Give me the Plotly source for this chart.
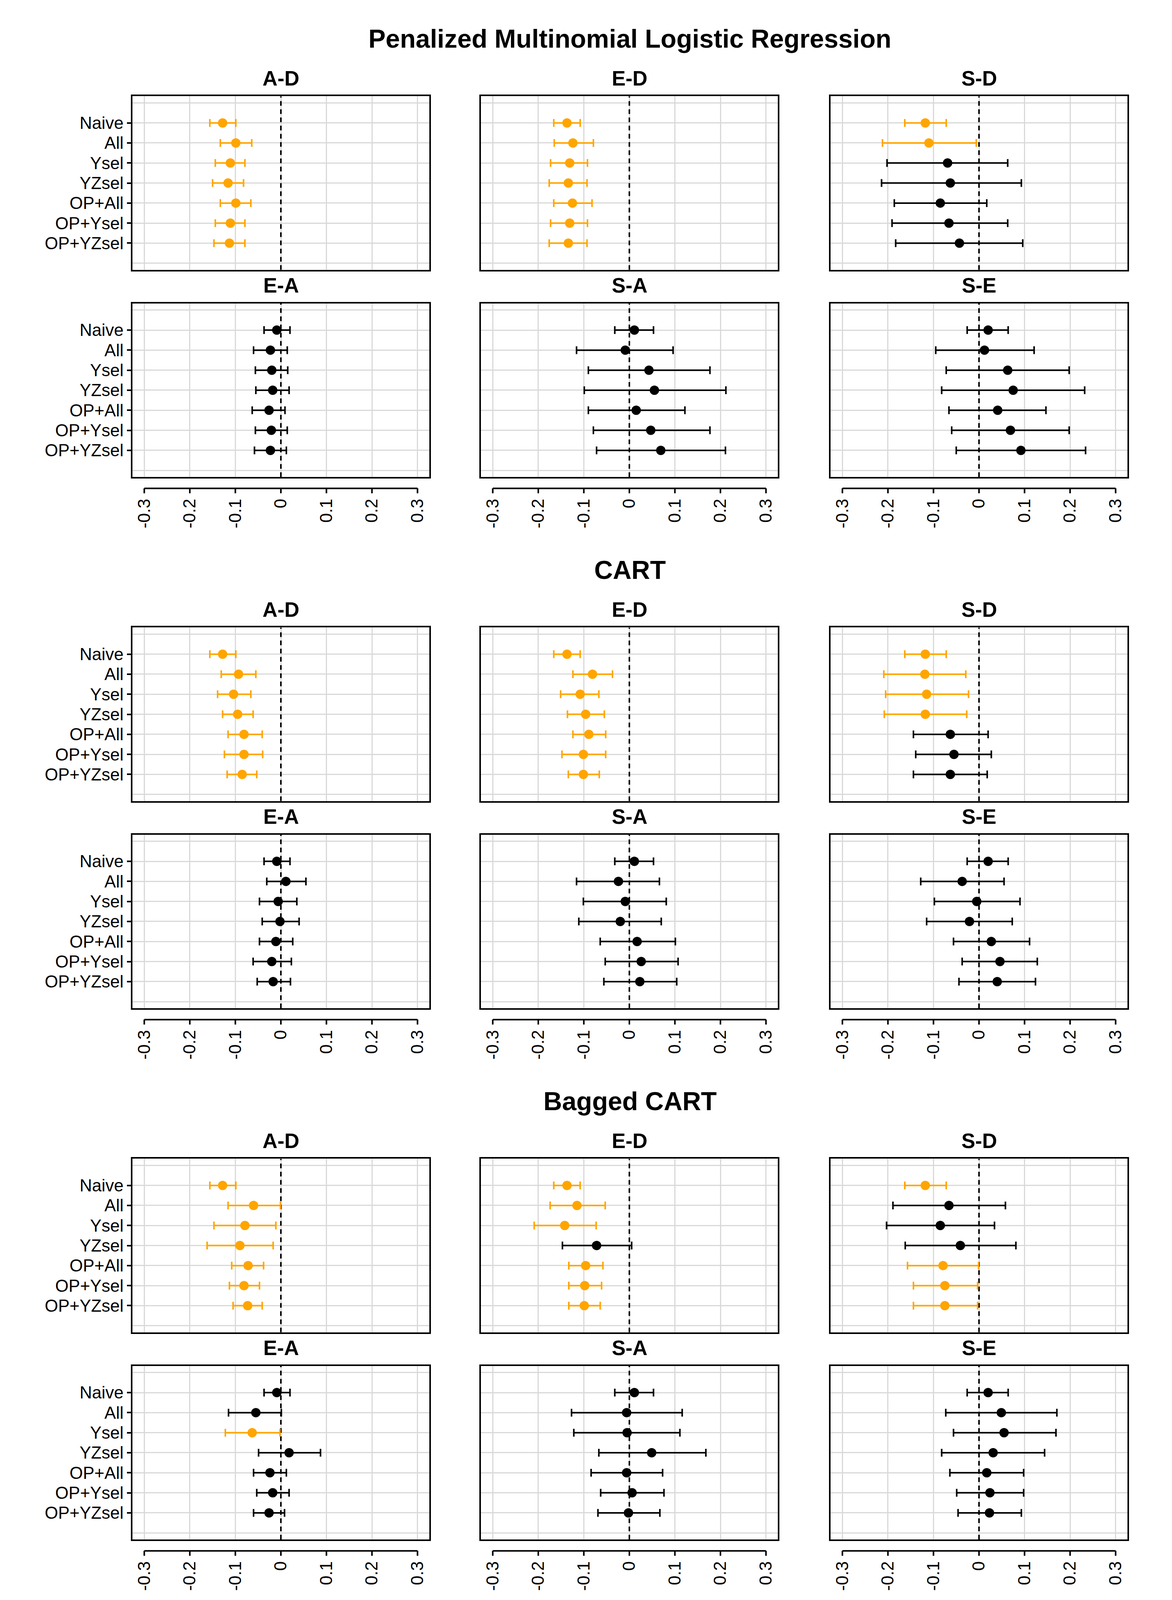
import plotly.graph_objects as go

# rows of every panel, top to bottom
methods = ["Naive", "All", "Ysel", "YZsel", "OP+All", "OP+Ysel", "OP+YZsel"]
contrasts = ["A-D", "E-D", "S-D", "E-A", "S-A", "S-E"]
models = ["Penalized Multinomial Logistic Regression", "CART", "Bagged CART"]
tick_vals = [-0.3, -0.2, -0.1, 0, 0.1, 0.2, 0.3]
tick_text = ["-0.3", "-0.2", "-0.1", "0", "0.1", "0.2", "0.3"]

# Penalized multinomial logistic regression
pmlr_ad_est = [-0.128, -0.099, -0.111, -0.116, -0.099, -0.111, -0.113]
pmlr_ad_lo = [-0.156, -0.133, -0.144, -0.150, -0.133, -0.144, -0.147]
pmlr_ad_hi = [-0.099, -0.064, -0.079, -0.082, -0.066, -0.079, -0.079]
pmlr_ed_est = [-0.137, -0.124, -0.131, -0.134, -0.125, -0.131, -0.134]
pmlr_ed_lo = [-0.166, -0.165, -0.173, -0.176, -0.166, -0.173, -0.176]
pmlr_ed_hi = [-0.108, -0.079, -0.092, -0.093, -0.082, -0.092, -0.093]
pmlr_sd_est = [-0.118, -0.110, -0.069, -0.063, -0.085, -0.066, -0.043]
pmlr_sd_lo = [-0.163, -0.212, -0.202, -0.214, -0.186, -0.191, -0.183]
pmlr_sd_hi = [-0.072, -0.006, 0.063, 0.093, 0.017, 0.063, 0.096]
pmlr_ea_est = [-0.009, -0.023, -0.020, -0.018, -0.026, -0.021, -0.023]
pmlr_ea_lo = [-0.037, -0.060, -0.056, -0.055, -0.063, -0.056, -0.058]
pmlr_ea_hi = [0.020, 0.014, 0.015, 0.018, 0.009, 0.014, 0.012]
pmlr_sa_est = [0.011, -0.009, 0.043, 0.055, 0.015, 0.047, 0.069]
pmlr_sa_lo = [-0.032, -0.116, -0.090, -0.099, -0.090, -0.079, -0.072]
pmlr_sa_hi = [0.053, 0.096, 0.177, 0.212, 0.122, 0.177, 0.211]
pmlr_se_est = [0.020, 0.012, 0.063, 0.075, 0.041, 0.069, 0.092]
pmlr_se_lo = [-0.026, -0.095, -0.072, -0.082, -0.066, -0.060, -0.050]
pmlr_se_hi = [0.064, 0.121, 0.198, 0.232, 0.147, 0.198, 0.234]

# CART
cart_ad_est = [-0.128, -0.093, -0.104, -0.095, -0.081, -0.081, -0.085]
cart_ad_lo = [-0.156, -0.131, -0.139, -0.128, -0.116, -0.124, -0.118]
cart_ad_hi = [-0.099, -0.055, -0.066, -0.061, -0.041, -0.040, -0.053]
cart_ed_est = [-0.137, -0.081, -0.108, -0.096, -0.089, -0.101, -0.101]
cart_ed_lo = [-0.166, -0.124, -0.151, -0.136, -0.124, -0.148, -0.134]
cart_ed_hi = [-0.108, -0.037, -0.067, -0.055, -0.052, -0.052, -0.066]
cart_sd_est = [-0.118, -0.119, -0.115, -0.118, -0.063, -0.055, -0.063]
cart_sd_lo = [-0.163, -0.209, -0.205, -0.208, -0.144, -0.139, -0.144]
cart_sd_hi = [-0.072, -0.029, -0.023, -0.027, 0.020, 0.027, 0.018]
cart_ea_est = [-0.009, 0.011, -0.006, -0.002, -0.011, -0.020, -0.017]
cart_ea_lo = [-0.037, -0.031, -0.047, -0.041, -0.047, -0.061, -0.052]
cart_ea_hi = [0.020, 0.055, 0.035, 0.040, 0.026, 0.023, 0.021]
cart_sa_est = [0.011, -0.024, -0.009, -0.020, 0.017, 0.026, 0.023]
cart_sa_lo = [-0.032, -0.116, -0.101, -0.111, -0.064, -0.053, -0.056]
cart_sa_hi = [0.053, 0.066, 0.081, 0.070, 0.101, 0.107, 0.104]
cart_se_est = [0.020, -0.037, -0.005, -0.021, 0.027, 0.046, 0.040]
cart_se_lo = [-0.026, -0.128, -0.098, -0.115, -0.056, -0.037, -0.044]
cart_se_hi = [0.064, 0.055, 0.090, 0.073, 0.111, 0.128, 0.124]

# Bagged CART
bag_ad_est = [-0.128, -0.060, -0.079, -0.090, -0.072, -0.081, -0.073]
bag_ad_lo = [-0.156, -0.116, -0.147, -0.162, -0.108, -0.113, -0.105]
bag_ad_hi = [-0.099, -0.001, -0.011, -0.017, -0.038, -0.047, -0.041]
bag_ed_est = [-0.137, -0.115, -0.142, -0.072, -0.096, -0.098, -0.099]
bag_ed_lo = [-0.166, -0.174, -0.209, -0.147, -0.133, -0.133, -0.133]
bag_ed_hi = [-0.108, -0.053, -0.073, 0.005, -0.058, -0.061, -0.064]
bag_sd_est = [-0.118, -0.066, -0.085, -0.041, -0.079, -0.075, -0.075]
bag_sd_lo = [-0.163, -0.189, -0.203, -0.162, -0.157, -0.144, -0.144]
bag_sd_hi = [-0.072, 0.058, 0.034, 0.081, -0.001, -0.003, -0.003]
bag_ea_est = [-0.009, -0.055, -0.063, 0.018, -0.024, -0.018, -0.026]
bag_ea_lo = [-0.037, -0.115, -0.122, -0.049, -0.060, -0.053, -0.060]
bag_ea_hi = [0.020, 0.001, -0.002, 0.087, 0.012, 0.018, 0.008]
bag_sa_est = [0.011, -0.006, -0.005, 0.049, -0.006, 0.006, -0.002]
bag_sa_lo = [-0.032, -0.127, -0.122, -0.067, -0.084, -0.063, -0.069]
bag_sa_hi = [0.053, 0.116, 0.111, 0.168, 0.073, 0.076, 0.067]
bag_se_est = [0.020, 0.049, 0.055, 0.031, 0.017, 0.024, 0.023]
bag_se_lo = [-0.026, -0.073, -0.056, -0.082, -0.064, -0.049, -0.046]
bag_se_hi = [0.064, 0.171, 0.169, 0.144, 0.098, 0.098, 0.093]

sections = [
    [(pmlr_ad_est, pmlr_ad_lo, pmlr_ad_hi), (pmlr_ed_est, pmlr_ed_lo, pmlr_ed_hi),
     (pmlr_sd_est, pmlr_sd_lo, pmlr_sd_hi), (pmlr_ea_est, pmlr_ea_lo, pmlr_ea_hi),
     (pmlr_sa_est, pmlr_sa_lo, pmlr_sa_hi), (pmlr_se_est, pmlr_se_lo, pmlr_se_hi)],
    [(cart_ad_est, cart_ad_lo, cart_ad_hi), (cart_ed_est, cart_ed_lo, cart_ed_hi),
     (cart_sd_est, cart_sd_lo, cart_sd_hi), (cart_ea_est, cart_ea_lo, cart_ea_hi),
     (cart_sa_est, cart_sa_lo, cart_sa_hi), (cart_se_est, cart_se_lo, cart_se_hi)],
    [(bag_ad_est, bag_ad_lo, bag_ad_hi), (bag_ed_est, bag_ed_lo, bag_ed_hi),
     (bag_sd_est, bag_sd_lo, bag_sd_hi), (bag_ea_est, bag_ea_lo, bag_ea_hi),
     (bag_sa_est, bag_sa_lo, bag_sa_hi), (bag_se_est, bag_se_lo, bag_se_hi)],
]

# page geometry, laid out on a 3000x4500 grid; the browser only shows
# about 4090px of height, so the figure itself is drawn a little shorter
W, H_REF = 3000, 4500
H = 4080
col_left = [331, 1223, 2118]
panel_w, panel_h = 760, 490
row_top = [263, 848]
sec_h = 1500
FONT = "Liberation Sans, Arial, sans-serif"
ORANGE = "#FFA500"
GRID = "#d9d9d9"

fig = go.Figure()
layout = {}
shapes = []
annotations = []
ypos = list(range(1, len(methods) + 1))
yrange = [len(methods) + 1.33, -0.33]

for s, model in enumerate(models):
    annotations.append(dict(
        text="<b>%s</b>" % model, xref="paper", yref="paper",
        x=(col_left[0] + col_left[2] + panel_w) / 2 / W, y=1 - (s * sec_h + 100) / H_REF,
        xanchor="center", yanchor="middle", showarrow=False,
        font=dict(family=FONT, size=66, color="black")))
    for k, contrast in enumerate(contrasts):
        r, c = divmod(k, 3)
        idx = s * 6 + k + 1
        sfx = "" if idx == 1 else str(idx)
        est, lo, hi = sections[s][k]
        top = s * sec_h + row_top[r]

        # dashed reference line at zero, under the estimates
        fig.add_trace(go.Scatter(
            x=[0, 0], y=yrange, mode="lines", showlegend=False, hoverinfo="skip",
            line=dict(color="black", width=4, dash="12px,9px"),
            xaxis="x" + sfx, yaxis="y" + sfx))

        for sig in (True, False):
            pts = [i for i in range(len(methods)) if ((hi[i] < 0 or lo[i] > 0) == sig)]
            if not pts:
                continue
            col = ORANGE if sig else "black"
            fig.add_trace(go.Scatter(
                x=[est[i] for i in pts], y=[ypos[i] for i in pts],
                mode="markers", showlegend=False,
                marker=dict(size=24, color=col),
                error_x=dict(type="data", symmetric=False,
                             array=[hi[i] - est[i] for i in pts],
                             arrayminus=[est[i] - lo[i] for i in pts],
                             color=col, thickness=4, width=10),
                xaxis="x" + sfx, yaxis="y" + sfx))

        layout["xaxis" + sfx] = dict(
            domain=[col_left[c] / W, (col_left[c] + panel_w) / W],
            anchor="y" + sfx, range=[-0.326, 0.326],
            tickmode="array", tickvals=tick_vals, ticktext=tick_text,
            showticklabels=(r == 1), tickangle=-90, ticks="",
            ticklabelstandoff=34,
            tickfont=dict(family=FONT, size=44, color="black"),
            showgrid=True, gridcolor=GRID, gridwidth=3, zeroline=False,
            showline=True, mirror=True, linecolor="black", linewidth=4)
        layout["yaxis" + sfx] = dict(
            domain=[1 - (top + panel_h) / H_REF, 1 - top / H_REF],
            anchor="x" + sfx, range=yrange,
            tickmode="array", tickvals=ypos, ticktext=methods,
            showticklabels=(c == 0), ticks="outside" if c == 0 else "",
            ticklen=10, tickwidth=4, tickcolor="black",
            tickfont=dict(family=FONT, size=44, color="black"),
            showgrid=True, gridcolor=GRID, gridwidth=3, zeroline=False,
            minor=dict(tickvals=[0, len(methods) + 1], showgrid=True,
                       gridcolor=GRID, gridwidth=3, ticks=""),
            showline=True, mirror=True, linecolor="black", linewidth=4)

        annotations.append(dict(
            text="<b>%s</b>" % contrast, xref="x%s domain" % sfx, yref="paper",
            x=0.5, y=1 - (top - 51) / H_REF, xanchor="center", yanchor="middle",
            showarrow=False, font=dict(family=FONT, size=53, color="black")))

        # detached x axis line with ticks under the bottom row
        if r == 1:
            ay = -32 / panel_h
            shapes.append(dict(type="line", xref="x" + sfx, yref="y%s domain" % sfx,
                               x0=tick_vals[0], x1=tick_vals[-1], y0=ay, y1=ay,
                               line=dict(color="black", width=4)))
            for v in tick_vals:
                shapes.append(dict(type="line", xref="x" + sfx, yref="y%s domain" % sfx,
                                   x0=v, x1=v, y0=ay, y1=ay - 14 / panel_h,
                                   line=dict(color="black", width=4)))

fig.update_layout(
    width=W, height=H,
    margin=dict(l=0, r=0, t=0, b=0),
    paper_bgcolor="white", plot_bgcolor="white",
    font=dict(family=FONT, color="black"),
    shapes=shapes, annotations=annotations,
    **layout)

fig.write_html("out.html")
